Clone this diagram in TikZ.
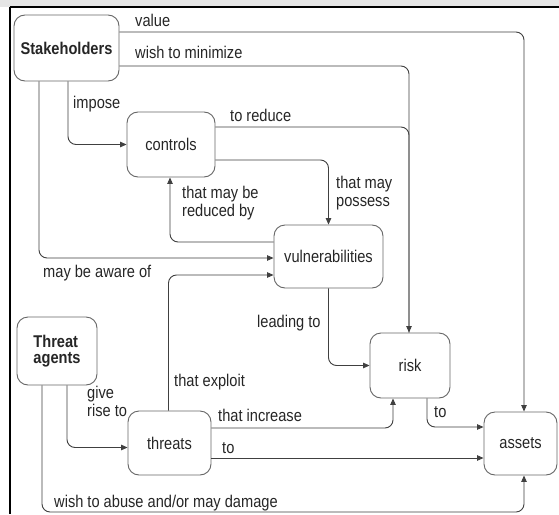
\documentclass[tikz,border=0pt]{standalone}
\usepackage{fontspec}
\setmainfont[FakeStretch=0.86]{Liberation Sans}
\usetikzlibrary{arrows.meta}

\newcommand\diagfont{\fontsize{17}{18}\selectfont}

\begin{document}
\begin{tikzpicture}[x=1pt,y=-1pt,
  every node/.style={font=\diagfont, text=black!85},
  box/.style={draw=black!60, line width=0.9pt, rounded corners=11pt, inner sep=0pt},
  conn/.style={draw=black!75, line width=0.9pt, rounded corners=8pt,
               -{Triangle[length=6.5pt,width=5.5pt]}},
  plain/.style={draw=black!75, line width=0.9pt, rounded corners=8pt},
  lbl/.style={anchor=base west, inner sep=0pt},
  lbltwo/.style={anchor=north west, inner sep=0pt, align=left}]

% page and frame
\useasboundingbox (0,0) rectangle (559,514);
\fill[white] (0,0) rectangle (559,514);
\fill[black!10] (0,0) rectangle (559,7);
\draw[black, line width=1.8pt] (10,7) -- (559,7);
\draw[black, line width=1.4pt] (10,7) -- (10,514);

% entities
\node[box, minimum width=105pt, minimum height=66pt, font=\diagfont\bfseries] (stake) at (66.5,48) {Stakeholders};
\node[box, minimum width=88pt, minimum height=65pt] (controls) at (171,144.5) {controls};
\node[box, minimum width=109pt, minimum height=63pt] (vuln) at (328.5,256.5) {vulnerabilities};
\node[box, minimum width=80pt, minimum height=65pt] (risk) at (410,365.5) {risk};
\node[box, minimum width=73pt, minimum height=63pt] (assets) at (520.5,443.5) {assets};
\node[box, minimum width=80pt, minimum height=68pt, align=left,
      font=\fontsize{17}{16}\selectfont\bfseries] (tagents) at (57,351) {Threat\\agents};
\node[box, minimum width=83pt, minimum height=64pt] (threats) at (169.5,443) {threats};

% relations from the stakeholders
\draw[conn] (stake.east |- 0,32) -| ([xshift=3.5pt]assets.north);
\draw[conn] (stake.east |- 0,66) -| ([xshift=-1pt]risk.north);
\draw[plain] (controls.east |- 0,127) -| ([xshift=-1pt]risk.north);
\draw[conn] ([xshift=1.5pt]stake.south) |- (controls.west);
\draw[conn] ([xshift=-27.5pt]stake.south) |- ([yshift=-1.5pt]vuln.west);

% controls and vulnerabilities
\draw[conn] (controls.east |- 0,160) -| (vuln.north);
\draw[conn] ([yshift=14.5pt]vuln.west) -| ([xshift=-1pt]controls.south);
\draw[conn] (vuln.south) |- (risk.west);

% threats
\draw[conn] ([xshift=-1pt]threats.north) |- ([yshift=-18.5pt]vuln.west);
\draw[conn] ([xshift=10pt]tagents.south) |- ([yshift=-4.5pt]threats.west);
\draw[conn] (threats.east |- 0,428) -| ([xshift=-17pt]risk.south);
\draw[conn] (threats.east |- 0,458) -- (assets.west |- 0,458);
\draw[conn] ([xshift=17pt]risk.south) |- (assets.west |- 0,427);
\draw[conn] ([xshift=-15pt]tagents.south) |- ([xshift=3.5pt]assets.south |- 0,512)
            -- ([xshift=3.5pt]assets.south);

% relation labels
\node[lbl] (lvalue) at (135,27) {value};
\node[lbl] (lmin) at (135,58) {wish to minimize};
\node[lbl] (limpose) at (73,108) {impose};
\node[lbl] (lreduce) at (230,121) {to reduce};
\node[lbltwo] (lpossess) at (336,176) {that may\\possess};
\node[lbltwo] (lreduced) at (182,186) {that may be\\reduced by};
\node[lbl] (laware) at (43,277) {may be aware of};
\node[lbl] (lleading) at (257,327) {leading to};
\node[lbl] (lexploit) at (174,386) {that exploit};
\node[lbltwo] (lgive) at (87,386) {give\\rise to};
\node[lbl] (lincrease) at (218,421) {that increase};
\node[lbl] (lto) at (222,453) {to};
\node[lbl] (lriskto) at (434,417) {to};
\node[lbl] (labuse) at (54,507) {wish to abuse and/or may damage};
\end{tikzpicture}
\end{document}
